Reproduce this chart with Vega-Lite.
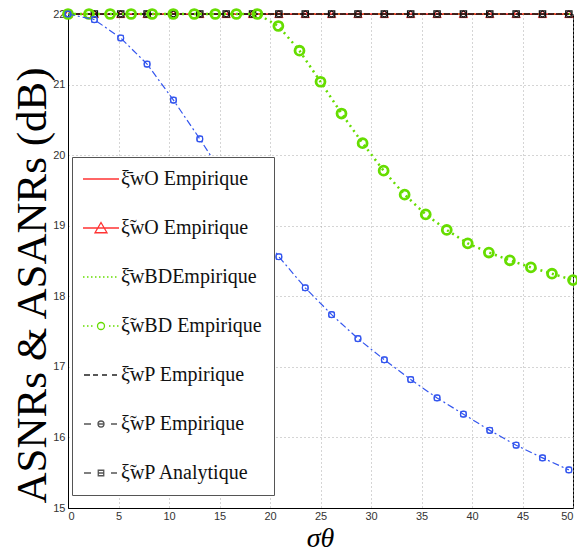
{
  "$schema": "https://vega.github.io/schema/vega-lite/v6.json",
  "width": 505,
  "height": 494,
  "autosize": {"type": "none"},
  "padding": {"left": 68, "top": 14, "right": 4, "bottom": 45},
  "background": "white",
  "config": {
    "view": {"stroke": "#000", "strokeWidth": 1},
    "axis": {
      "domainColor": "#000",
      "labelFont": "Liberation Sans",
      "labelFontSize": 11,
      "labelColor": "#333",
      "grid": true,
      "gridDash": [1, 3],
      "gridColor": "#aaa",
      "ticks": false,
      "titleFont": "Liberation Serif",
      "titleFontWeight": "normal",
      "titleColor": "#000"
    }
  },
  "datasets": {
    "pts": [
      {"s": "A", "x": 0, "y": 22}, {"s": "A", "x": 2.61, "y": 22}, {"s": "A", "x": 5.22, "y": 22}, {"s": "A", "x": 7.83, "y": 22}, {"s": "A", "x": 10.44, "y": 22},
      {"s": "A", "x": 13.05, "y": 22}, {"s": "A", "x": 15.66, "y": 22}, {"s": "A", "x": 18.27, "y": 22}, {"s": "A", "x": 20.88, "y": 22}, {"s": "A", "x": 23.49, "y": 22},
      {"s": "A", "x": 26.1, "y": 22}, {"s": "A", "x": 28.71, "y": 22}, {"s": "A", "x": 31.32, "y": 22}, {"s": "A", "x": 33.93, "y": 22}, {"s": "A", "x": 36.54, "y": 22},
      {"s": "A", "x": 39.15, "y": 22}, {"s": "A", "x": 41.76, "y": 22}, {"s": "A", "x": 44.37, "y": 22}, {"s": "A", "x": 46.98, "y": 22}, {"s": "A", "x": 49.59, "y": 22},
      {"s": "B", "x": 0, "y": 22}, {"s": "B", "x": 2.61, "y": 22}, {"s": "B", "x": 5.22, "y": 22}, {"s": "B", "x": 7.83, "y": 22}, {"s": "B", "x": 10.44, "y": 22},
      {"s": "B", "x": 13.05, "y": 22}, {"s": "B", "x": 15.66, "y": 22}, {"s": "B", "x": 18.27, "y": 22}, {"s": "B", "x": 20.88, "y": 22}, {"s": "B", "x": 23.49, "y": 22},
      {"s": "B", "x": 26.1, "y": 22}, {"s": "B", "x": 28.71, "y": 22}, {"s": "B", "x": 31.32, "y": 22}, {"s": "B", "x": 33.93, "y": 22}, {"s": "B", "x": 36.54, "y": 22},
      {"s": "B", "x": 39.15, "y": 22}, {"s": "B", "x": 41.76, "y": 22}, {"s": "B", "x": 44.37, "y": 22}, {"s": "B", "x": 46.98, "y": 22}, {"s": "B", "x": 49.59, "y": 22},
      {"s": "C", "x": 0, "y": 22}, {"s": "C", "x": 2.08, "y": 22}, {"s": "C", "x": 4.17, "y": 22}, {"s": "C", "x": 6.25, "y": 22}, {"s": "C", "x": 8.33, "y": 22},
      {"s": "C", "x": 10.42, "y": 22}, {"s": "C", "x": 12.5, "y": 22}, {"s": "C", "x": 14.58, "y": 22}, {"s": "C", "x": 16.67, "y": 22}, {"s": "C", "x": 18.75, "y": 22},
      {"s": "C", "x": 20.83, "y": 22}, {"s": "C", "x": 22.92, "y": 22}, {"s": "C", "x": 25, "y": 22}, {"s": "C", "x": 27.08, "y": 22}, {"s": "C", "x": 29.17, "y": 22},
      {"s": "C", "x": 31.25, "y": 22}, {"s": "C", "x": 33.33, "y": 22}, {"s": "C", "x": 35.42, "y": 22}, {"s": "C", "x": 37.5, "y": 22}, {"s": "C", "x": 39.58, "y": 22},
      {"s": "C", "x": 41.67, "y": 22}, {"s": "C", "x": 43.75, "y": 22}, {"s": "C", "x": 45.83, "y": 22}, {"s": "C", "x": 47.92, "y": 22}, {"s": "C", "x": 50, "y": 22},
      {"s": "D", "x": 0, "y": 22}, {"s": "D", "x": 2.08, "y": 22}, {"s": "D", "x": 4.17, "y": 22}, {"s": "D", "x": 6.25, "y": 22}, {"s": "D", "x": 8.33, "y": 22},
      {"s": "D", "x": 10.42, "y": 22}, {"s": "D", "x": 12.5, "y": 22}, {"s": "D", "x": 14.58, "y": 22}, {"s": "D", "x": 16.67, "y": 22}, {"s": "D", "x": 18.75, "y": 22},
      {"s": "D", "x": 20.83, "y": 21.83}, {"s": "D", "x": 22.92, "y": 21.48}, {"s": "D", "x": 25, "y": 21.04}, {"s": "D", "x": 27.08, "y": 20.59}, {"s": "D", "x": 29.17, "y": 20.17},
      {"s": "D", "x": 31.25, "y": 19.78}, {"s": "D", "x": 33.33, "y": 19.44}, {"s": "D", "x": 35.42, "y": 19.16}, {"s": "D", "x": 37.5, "y": 18.94}, {"s": "D", "x": 39.58, "y": 18.75},
      {"s": "D", "x": 41.67, "y": 18.62}, {"s": "D", "x": 43.75, "y": 18.51}, {"s": "D", "x": 45.83, "y": 18.41}, {"s": "D", "x": 47.92, "y": 18.32}, {"s": "D", "x": 50, "y": 18.23},
      {"s": "E", "x": 0, "y": 22}, {"s": "E", "x": 2.61, "y": 22}, {"s": "E", "x": 5.22, "y": 22}, {"s": "E", "x": 7.83, "y": 22}, {"s": "E", "x": 10.44, "y": 22},
      {"s": "E", "x": 13.05, "y": 22}, {"s": "E", "x": 15.66, "y": 22}, {"s": "E", "x": 18.27, "y": 22}, {"s": "E", "x": 20.88, "y": 22}, {"s": "E", "x": 23.49, "y": 22},
      {"s": "E", "x": 26.1, "y": 22}, {"s": "E", "x": 28.71, "y": 22}, {"s": "E", "x": 31.32, "y": 22}, {"s": "E", "x": 33.93, "y": 22}, {"s": "E", "x": 36.54, "y": 22},
      {"s": "E", "x": 39.15, "y": 22}, {"s": "E", "x": 41.76, "y": 22}, {"s": "E", "x": 44.37, "y": 22}, {"s": "E", "x": 46.98, "y": 22}, {"s": "E", "x": 49.59, "y": 22},
      {"s": "F", "x": 0, "y": 22}, {"s": "F", "x": 2.61, "y": 21.92}, {"s": "F", "x": 5.22, "y": 21.66}, {"s": "F", "x": 7.83, "y": 21.29}, {"s": "F", "x": 10.44, "y": 20.78},
      {"s": "F", "x": 13.05, "y": 20.23}, {"s": "F", "x": 15.66, "y": 19.65}, {"s": "F", "x": 18.27, "y": 19.1}, {"s": "F", "x": 20.88, "y": 18.56}, {"s": "F", "x": 23.49, "y": 18.12},
      {"s": "F", "x": 26.1, "y": 17.74}, {"s": "F", "x": 28.71, "y": 17.4}, {"s": "F", "x": 31.32, "y": 17.1}, {"s": "F", "x": 33.93, "y": 16.82}, {"s": "F", "x": 36.54, "y": 16.56},
      {"s": "F", "x": 39.15, "y": 16.33}, {"s": "F", "x": 41.76, "y": 16.1}, {"s": "F", "x": 44.37, "y": 15.89}, {"s": "F", "x": 46.98, "y": 15.71}, {"s": "F", "x": 49.59, "y": 15.54},
      {"s": "G", "x": 0, "y": 22}, {"s": "G", "x": 2.61, "y": 21.92}, {"s": "G", "x": 5.22, "y": 21.66}, {"s": "G", "x": 7.83, "y": 21.29}, {"s": "G", "x": 10.44, "y": 20.78},
      {"s": "G", "x": 13.05, "y": 20.23}, {"s": "G", "x": 15.66, "y": 19.65}, {"s": "G", "x": 18.27, "y": 19.1}, {"s": "G", "x": 20.88, "y": 18.56}, {"s": "G", "x": 23.49, "y": 18.12},
      {"s": "G", "x": 26.1, "y": 17.74}, {"s": "G", "x": 28.71, "y": 17.4}, {"s": "G", "x": 31.32, "y": 17.1}, {"s": "G", "x": 33.93, "y": 16.82}, {"s": "G", "x": 36.54, "y": 16.56},
      {"s": "G", "x": 39.15, "y": 16.33}, {"s": "G", "x": 41.76, "y": 16.1}, {"s": "G", "x": 44.37, "y": 15.89}, {"s": "G", "x": 46.98, "y": 15.71}, {"s": "G", "x": 49.59, "y": 15.54}
    ]
  },
  "data": {"name": "pts"},
  "encoding": {
    "x": {
      "field": "x", "type": "quantitative",
      "scale": {"domain": [0, 50], "nice": false, "zero": false},
      "axis": {
        "values": [0, 5, 10, 15, 20, 25, 30, 35, 40, 45, 50],
        "labelPadding": 2,
        "title": "σθ",
        "titleFontSize": 28,
        "titleFontStyle": "italic",
        "titleX": 252,
        "titleY": 44,
        "titleBaseline": "bottom",
        "titleAlign": "center"
      }
    },
    "y": {
      "field": "y", "type": "quantitative",
      "scale": {"domain": [15, 22], "nice": false, "zero": false},
      "axis": {
        "values": [15, 16, 17, 18, 19, 20, 21, 22],
        "labelPadding": 3,
        "title": "ASNRs & ASANRs (dB)",
        "titleFontSize": 43,
        "titleX": -23,
        "titleY": 271,
        "titleBaseline": "alphabetic",
        "titleAlign": "center",
        "titleAngle": -90
      }
    }
  },
  "layer": [
    {"transform": [{"filter": "datum.s == 'C'"}], "mark": {"type": "line", "color": "#66dd00", "strokeWidth": 2, "strokeDash": [2, 3]}},
    {"transform": [{"filter": "datum.s == 'A'"}], "mark": {"type": "line", "color": "#ff3333", "strokeWidth": 1}},
    {"transform": [{"filter": "datum.s == 'B'"}], "mark": {"type": "line", "color": "#ff3333", "strokeWidth": 1}},
    {"transform": [{"filter": "datum.s == 'B'"}], "mark": {"type": "point", "shape": "triangle-up", "filled": false, "color": "#ff3333", "size": 70, "strokeWidth": 1, "opacity": 1}},
    {"transform": [{"filter": "datum.s == 'E'"}], "mark": {"type": "line", "color": "#111", "strokeWidth": 1.6, "strokeDash": [6, 2]}},
    {"transform": [{"filter": "datum.s == 'E'"}], "mark": {"type": "point", "shape": "square", "filled": false, "color": "#111", "size": 40, "strokeWidth": 1.2, "opacity": 1}},
    {"transform": [{"filter": "datum.s == 'E'"}], "mark": {"type": "point", "shape": "circle", "filled": false, "color": "#111", "size": 30, "strokeWidth": 1, "opacity": 1}},
    {"transform": [{"filter": "datum.s == 'D'"}], "mark": {"type": "line", "color": "#66dd00", "strokeWidth": 2.5, "strokeDash": [2, 4]}},
    {"transform": [{"filter": "datum.s == 'D'"}], "mark": {"type": "point", "shape": "circle", "filled": false, "color": "#66dd00", "size": 80, "strokeWidth": 2.8, "opacity": 1}},
    {"transform": [{"filter": "datum.s == 'F'"}], "mark": {"type": "line", "color": "#3355ee", "strokeWidth": 1.2, "strokeDash": [7, 3, 2, 3]}},
    {"transform": [{"filter": "datum.s == 'F'"}], "mark": {"type": "point", "shape": "circle", "filled": false, "color": "#3355ee", "size": 36, "strokeWidth": 1.2, "opacity": 1}},
    {"transform": [{"filter": "datum.s == 'G'"}], "mark": {"type": "point", "shape": "square", "filled": false, "color": "#3355ee", "size": 30, "strokeWidth": 1, "opacity": 1}},
    {
      "mark": {"type": "point", "filled": false, "opacity": 0},
      "encoding": {
        "shape": {
          "field": "s", "type": "nominal",
          "scale": {
            "domain": ["A", "B", "C", "D", "E", "F", "G"],
            "range": [
              "M-3.6,0H3.6",
              "M-3.6,0H3.6M0,-1.1L1.2,0.95L-1.2,0.95Z",
              "M-3.6,0h0.3M-2.8,0h0.3M-2,0h0.3M-1.2,0h0.3M-0.4,0h0.3M0.4,0h0.3M1.2,0h0.3M2,0h0.3M2.8,0h0.3",
              "M-3.6,0h0.3M-2.8,0h0.3M-2,0h0.3M1.6,0h0.3M2.4,0h0.3M3.2,0h0.3M-0.7,0A0.7,0.7 0 1,1 0.7,0A0.7,0.7 0 1,1 -0.7,0",
              "M-3.4,0H-2.2M-1.6,0H-0.6M0.2,0H1.2M2.2,0H3.2",
              "M-3.4,0H-2M2,0H3.2M-0.6,0A0.6,0.6 0 1,1 0.6,0A0.6,0.6 0 1,1 -0.6,0M-0.6,0H0.6",
              "M-3.4,0H-2M2,0H3.2M-0.55,-0.55H0.55V0.55H-0.55ZM-0.55,0H0.55"
            ]
          },
          "legend": {
            "orient": "none", "legendX": 4, "legendY": 143, "title": null,
            "fillColor": "white", "strokeColor": "#555", "padding": 12,
            "symbolSize": 100, "symbolOffset": 7, "labelOffset": 10, "rowPadding": 29,
            "symbolStrokeWidth": 1.3, "symbolOpacity": 1,
            "labelFont": "Liberation Serif", "labelFontSize": 20, "labelColor": "#111", "labelLimit": 400,
            "labelExpr": "{A:'\u03be\u0304wO Empirique',B:'\u03be\u0303wO Empirique',C:'\u03be\u0304wBDEmpirique',D:'\u03be\u0303wBD Empirique',E:'\u03be\u0304wP Empirique',F:'\u03be\u0303wP Empirique',G:'\u03be\u0303wP Analytique'}[datum.label]",
            "encode": {
              "legend": {"update": {"strokeWidth": {"value": 2}}},
              "symbols": {"update": {"strokeWidth": {"signal": "datum.value == 'D' ? 3 : 1.3"}}}
            }
          }
        },
        "color": {
          "field": "s", "type": "nominal",
          "scale": {
            "domain": ["A", "B", "C", "D", "E", "F", "G"],
            "range": ["#ff3333", "#ff3333", "#66dd00", "#66dd00", "#222222", "#555555", "#555555"]
          },
          "legend": {
            "orient": "none", "legendX": 4, "legendY": 143, "title": null,
            "fillColor": "white", "strokeColor": "#555", "padding": 12,
            "symbolSize": 100, "symbolOffset": 7, "labelOffset": 10, "rowPadding": 29,
            "symbolStrokeWidth": 1.3, "symbolOpacity": 1,
            "labelFont": "Liberation Serif", "labelFontSize": 20, "labelColor": "#111", "labelLimit": 400,
            "labelExpr": "{A:'\u03be\u0304wO Empirique',B:'\u03be\u0303wO Empirique',C:'\u03be\u0304wBDEmpirique',D:'\u03be\u0303wBD Empirique',E:'\u03be\u0304wP Empirique',F:'\u03be\u0303wP Empirique',G:'\u03be\u0303wP Analytique'}[datum.label]",
            "encode": {
              "legend": {"update": {"strokeWidth": {"value": 2}}},
              "symbols": {"update": {"strokeWidth": {"signal": "datum.value == 'D' ? 3 : 1.3"}}}
            }
          }
        }
      }
    }
  ]
}
